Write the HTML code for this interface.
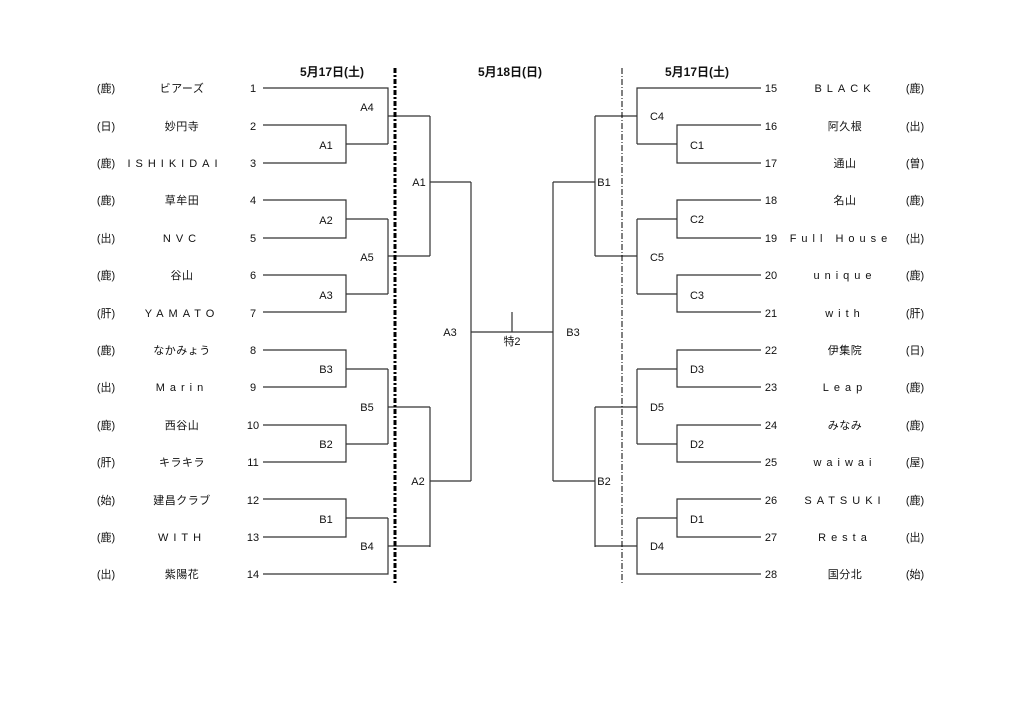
<!DOCTYPE html>
<html><head><meta charset="utf-8"><style>
html,body{margin:0;padding:0;background:#fff;}
svg{display:block;}
text{font-family:"Liberation Sans","Noto Sans CJK JP",sans-serif;fill:#111;}
.n{font-size:11px;text-anchor:middle;}
.t{font-size:11px;text-anchor:middle;letter-spacing:5px;}
.j{font-size:11px;text-anchor:middle;letter-spacing:0.5px;}
.p{font-size:11px;text-anchor:middle;}
.l{font-size:11px;text-anchor:middle;}
.h{font-size:12px;text-anchor:middle;font-weight:bold;}
</style></head><body>
<svg width="1024" height="724" viewBox="0 0 1024 724" xmlns="http://www.w3.org/2000/svg">
<g fill="none" stroke="#333" stroke-width="1.2">
<path d="M263 88H388V144"/>
<path d="M263 125H346V163H263M346 144H388M388 116H430"/>
<path d="M263 200H346V238H263M346 219H388"/>
<path d="M263 275H346V312H263M346 294H388"/>
<path d="M388 219V294M388 256H430M430 116V256M430 182H471"/>
<path d="M263 350H346V387H263M346 369H388"/>
<path d="M263 425H346V462H263M346 444H388"/>
<path d="M388 369V444M388 407H430"/>
<path d="M263 499H346V537H263M346 518H388"/>
<path d="M263 574H388V518M388 546H430"/>
<path d="M430 407V547M430 481H471"/>
<path d="M471 182V481M471 332H553M512 312V332"/>
<path d="M761 88H637V144"/>
<path d="M761 125H677V163H761M677 144H637M637 116H595"/>
<path d="M761 200H677V238H761M677 219H637"/>
<path d="M761 275H677V312H761M677 294H637"/>
<path d="M637 219V294M637 256H595M595 116V256M595 182H553"/>
<path d="M761 350H677V387H761M677 369H637"/>
<path d="M761 425H677V462H761M677 444H637"/>
<path d="M637 369V444M637 407H595"/>
<path d="M761 499H677V537H761M677 518H637"/>
<path d="M761 574H637V518M637 546H595"/>
<path d="M595 407V547M595 481H553"/>
<path d="M553 182V481"/>
</g>
<line x1="395" y1="68" x2="395" y2="584" stroke="#000" stroke-width="3" stroke-dasharray="5,2,2,2"/>
<line x1="622" y1="68" x2="622" y2="584" stroke="#000" stroke-width="1" stroke-dasharray="6,2,1,2"/>
<text class="h" x="332" y="76">5月17日(土)</text>
<text class="h" x="510" y="76">5月18日(日)</text>
<text class="h" x="697" y="76">5月17日(土)</text>
<g>
<text class="p" x="106" y="92">(鹿)</text><text class="j" x="182" y="92">ビアーズ</text><text class="n" x="253" y="92">1</text>
<text class="p" x="106" y="130">(日)</text><text class="j" x="182" y="130">妙円寺</text><text class="n" x="253" y="130">2</text>
<text class="p" x="106" y="167">(鹿)</text><text class="t" x="175" y="167">ISHIKIDAI</text><text class="n" x="253" y="167">3</text>
<text class="p" x="106" y="204">(鹿)</text><text class="j" x="182" y="204">草牟田</text><text class="n" x="253" y="204">4</text>
<text class="p" x="106" y="242">(出)</text><text class="t" x="182" y="242">NVC</text><text class="n" x="253" y="242">5</text>
<text class="p" x="106" y="279">(鹿)</text><text class="j" x="182" y="279">谷山</text><text class="n" x="253" y="279">6</text>
<text class="p" x="106" y="317">(肝)</text><text class="t" x="182" y="317">YAMATO</text><text class="n" x="253" y="317">7</text>
<text class="p" x="106" y="354">(鹿)</text><text class="j" x="182" y="354">なかみょう</text><text class="n" x="253" y="354">8</text>
<text class="p" x="106" y="391">(出)</text><text class="t" x="182" y="391">Marin</text><text class="n" x="253" y="391">9</text>
<text class="p" x="106" y="429">(鹿)</text><text class="j" x="182" y="429">西谷山</text><text class="n" x="253" y="429">10</text>
<text class="p" x="106" y="466">(肝)</text><text class="j" x="182" y="466">キラキラ</text><text class="n" x="253" y="466">11</text>
<text class="p" x="106" y="504">(始)</text><text class="j" x="182" y="504">建昌クラブ</text><text class="n" x="253" y="504">12</text>
<text class="p" x="106" y="541">(鹿)</text><text class="t" x="182" y="541">WITH</text><text class="n" x="253" y="541">13</text>
<text class="p" x="106" y="578">(出)</text><text class="j" x="182" y="578">紫陽花</text><text class="n" x="253" y="578">14</text>
</g>
<g>
<text class="n" x="771" y="92">15</text><text class="t" x="845" y="92">BLACK</text><text class="p" x="915" y="92">(鹿)</text>
<text class="n" x="771" y="130">16</text><text class="j" x="845" y="130">阿久根</text><text class="p" x="915" y="130">(出)</text>
<text class="n" x="771" y="167">17</text><text class="j" x="845" y="167">通山</text><text class="p" x="915" y="167">(曽)</text>
<text class="n" x="771" y="204">18</text><text class="j" x="845" y="204">名山</text><text class="p" x="915" y="204">(鹿)</text>
<text class="n" x="771" y="242">19</text><text class="t" x="841" y="242">Full House</text><text class="p" x="915" y="242">(出)</text>
<text class="n" x="771" y="279">20</text><text class="t" x="845" y="279">unique</text><text class="p" x="915" y="279">(鹿)</text>
<text class="n" x="771" y="317">21</text><text class="t" x="845" y="317">with</text><text class="p" x="915" y="317">(肝)</text>
<text class="n" x="771" y="354">22</text><text class="j" x="845" y="354">伊集院</text><text class="p" x="915" y="354">(日)</text>
<text class="n" x="771" y="391">23</text><text class="t" x="845" y="391">Leap</text><text class="p" x="915" y="391">(鹿)</text>
<text class="n" x="771" y="429">24</text><text class="j" x="845" y="429">みなみ</text><text class="p" x="915" y="429">(鹿)</text>
<text class="n" x="771" y="466">25</text><text class="t" x="845" y="466">waiwai</text><text class="p" x="915" y="466">(屋)</text>
<text class="n" x="771" y="504">26</text><text class="t" x="845" y="504">SATSUKI</text><text class="p" x="915" y="504">(鹿)</text>
<text class="n" x="771" y="541">27</text><text class="t" x="845" y="541">Resta</text><text class="p" x="915" y="541">(出)</text>
<text class="n" x="771" y="578">28</text><text class="j" x="845" y="578">国分北</text><text class="p" x="915" y="578">(始)</text>
</g>
<g>
<text class="l" x="367" y="111">A4</text>
<text class="l" x="326" y="149">A1</text>
<text class="l" x="326" y="224">A2</text>
<text class="l" x="367" y="261">A5</text>
<text class="l" x="326" y="299">A3</text>
<text class="l" x="419" y="186">A1</text>
<text class="l" x="450" y="336">A3</text>
<text class="l" x="512" y="345">特2</text>
<text class="l" x="326" y="373">B3</text>
<text class="l" x="367" y="411">B5</text>
<text class="l" x="326" y="448">B2</text>
<text class="l" x="326" y="523">B1</text>
<text class="l" x="367" y="550">B4</text>
<text class="l" x="418" y="485">A2</text>
<text class="l" x="657" y="120">C4</text>
<text class="l" x="697" y="149">C1</text>
<text class="l" x="697" y="223">C2</text>
<text class="l" x="657" y="261">C5</text>
<text class="l" x="697" y="299">C3</text>
<text class="l" x="604" y="186">B1</text>
<text class="l" x="573" y="336">B3</text>
<text class="l" x="697" y="373">D3</text>
<text class="l" x="657" y="411">D5</text>
<text class="l" x="697" y="448">D2</text>
<text class="l" x="697" y="523">D1</text>
<text class="l" x="657" y="550">D4</text>
<text class="l" x="604" y="485">B2</text>
</g>
</svg>
</body></html>
